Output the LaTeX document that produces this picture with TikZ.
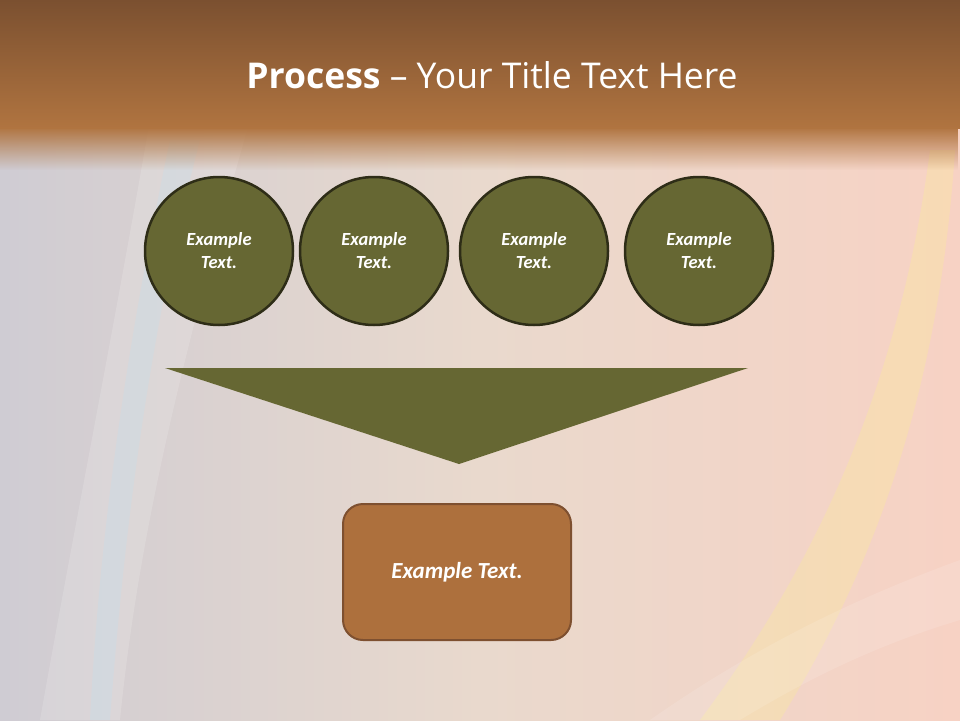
\documentclass[tikz,border=0pt]{standalone}
\usepackage{fontspec}
\setmainfont{Carlito}
\newfontfamily\titlefont{Open Sans}
\usetikzlibrary{fadings,shapes.geometric}
\definecolor{bandtop}{HTML}{7B5030}
\definecolor{bandbot}{HTML}{B07440}
\definecolor{olive}{HTML}{666733}
\definecolor{olivedark}{HTML}{2E2D17}
\definecolor{boxfill}{HTML}{AD703D}
\definecolor{boxline}{HTML}{7E5030}
\definecolor{bgleft}{HTML}{CFCCD3}
\definecolor{bgmid}{HTML}{E9D9CD}
\definecolor{bgright}{HTML}{F7D2C4}
\tikzset{
  circ/.style={circle, draw=olivedark, line width=2.5pt, fill=olive, minimum size=148pt, inner sep=0pt,
    text=white, font=\fontsize{18.5}{23}\selectfont\bfseries\itshape, align=center},
  resultbox/.style={rectangle, rounded corners=20pt, draw=boxline, line width=2pt, fill=boxfill,
    minimum width=228pt, minimum height=136pt, text=white, font=\fontsize{23}{27}\selectfont\bfseries\itshape},
  funnel/.style={fill=olive, draw=none}
}
\begin{document}
\begin{tikzpicture}[x=1pt,y=-1pt]
\useasboundingbox (0,0) rectangle (960,720);
% background
\shade[left color=bgleft, right color=bgright, middle color=bgmid] (0,0) rectangle (960,720);
% light streaks
\fill[white, opacity=0.15] (150,120) .. controls (110,350) and (70,550) .. (40,720) -- (120,720) .. controls (140,520) and (190,330) .. (250,120) -- cycle;
\fill[cyan!30!white, opacity=0.18] (170,140) .. controls (130,330) and (100,520) .. (90,720) -- (110,720) .. controls (125,520) and (150,330) .. (200,140) -- cycle;
\fill[yellow!50!white, opacity=0.22] (930,150) .. controls (900,380) and (820,560) .. (700,720) -- (780,720) .. controls (880,560) and (940,380) .. (955,150) -- cycle;
\fill[white, opacity=0.12] (650,720) .. controls (750,650) and (850,600) .. (960,560) -- (960,620) .. controls (860,650) and (790,690) .. (740,720) -- cycle;
% title band
\shade[top color=bandtop, bottom color=bandbot] (0,0) rectangle (960,128);
\fill[bandbot, path fading=south] (0,127) rectangle (960,170);
\node[text=white, font=\titlefont\fontsize{35.5}{40}\selectfont] (title) at (492,75) {\textbf{Process} – Your Title Text Here};
% circles
\node[circ] (c1) at (219,251) {Example\\Text.};
\node[circ] (c2) at (374,251) {Example\\Text.};
\node[circ] (c3) at (534,251) {Example\\Text.};
\node[circ] (c4) at (699,251) {Example\\Text.};
% funnel
\coordinate (fl) at (165,368);
\coordinate (fr) at (748,368);
\coordinate (ft) at (459,464);
\fill[funnel] (fl) -- (fr) -- (ft) -- cycle;
% result box
\node[resultbox] (res) at (457,572) {Example Text.};
\end{tikzpicture}
\end{document}
